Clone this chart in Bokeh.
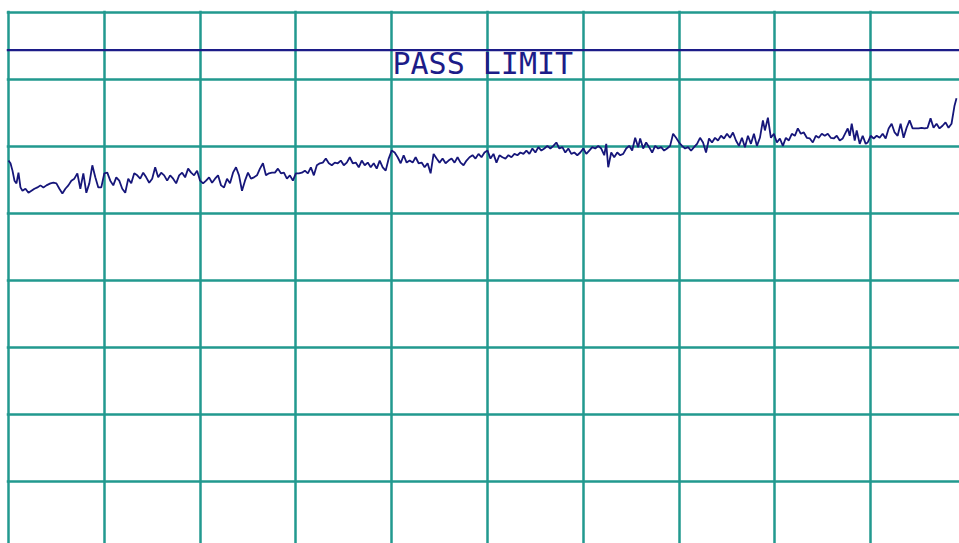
from bokeh.plotting import figure
from bokeh.models import FixedTicker, Span, Range1d
from bokeh.core.properties import value
from bokeh.embed import file_html
from bokeh.resources import INLINE

# Sweep point index (961-point sweep, 96 points per division) and measured level in dBuV
sweep_idx = [
    0, 2, 4, 6, 8, 10, 12, 14, 17, 20, 23, 26, 29, 32, 35, 38, 42, 45, 48, 51, 54, 57, 60, 63, 66, 69, 72, 75, 78, 81,
    84, 87, 90, 93, 96, 99, 102, 105, 108, 111, 114, 117, 120, 123, 126,
    129, 132, 135, 138, 141, 144, 147, 150, 153, 156, 159, 162, 165, 168, 171, 174, 177, 180, 183, 186, 189, 192, 195,
    198, 201, 204, 207, 210, 213, 216, 219, 222, 225, 228, 231, 234, 237, 240, 243, 246, 249, 252, 255, 258, 261, 264,
    267, 270, 273, 276, 279, 282, 285, 288, 291, 294, 297, 300, 303, 306, 309, 312, 315, 318, 321, 324, 327, 330, 333,
    336, 339, 342, 345, 348, 351, 354, 357, 360, 363, 366, 369, 372, 375, 378, 381, 384, 387, 390, 393, 396, 399,
    402, 405, 408, 411, 414, 417, 420, 423, 426, 429, 432, 435, 438, 441, 444, 447, 450, 453, 456, 459, 462, 465, 468,
    471, 474, 477, 480, 483, 486, 489, 492, 495, 498, 501, 504, 507, 510, 513, 516, 519, 522, 525, 528, 531, 534,
    537, 540, 543, 546, 549, 552, 555, 558, 561, 564, 567, 570, 573, 576, 579, 582, 585, 588, 591, 594, 597, 599, 601,
    604, 607, 610, 613, 616, 619, 622, 625, 628, 631, 633, 636, 639, 642, 645, 648, 651, 654, 657, 660, 663, 666, 669, 672,
    675, 678, 681, 684, 687, 690, 693, 696, 699, 702, 705, 708, 711, 714, 717, 720, 723, 726, 729, 732, 735, 738, 741,
    744, 747, 750, 753, 756, 758, 761, 764, 767, 770, 773, 776, 779, 782, 785, 788, 791, 794, 797, 800, 803, 806,
    809, 812, 815, 818, 821, 824, 827, 830, 833, 836, 839, 841, 843, 845, 848, 850, 853, 856, 859, 861, 864, 867, 870,
    873, 876, 879, 882, 885, 888, 891, 894, 897, 900, 903, 906, 909, 912, 915, 918, 921, 924, 927, 930, 933, 936, 939,
    942, 945, 948, 950,
]
level_db = [
    57.9, 57.5, 56.4, 54.9, 54.5, 56.1, 53.9, 53.4, 53.7, 53.1, 53.4, 53.7, 53.9, 54.2, 53.9, 54.2, 54.5, 54.6, 54.5,
    53.7, 53.0, 53.7, 54.2, 54.9, 55.2, 56.0, 53.7, 56.0, 53.1, 54.5, 57.2, 55.4, 53.9, 53.9, 56.0, 56.1, 54.9, 54.2,
    55.4, 54.9, 53.7, 53.1, 55.2, 54.5, 56.0,
    55.7, 55.2, 56.1, 55.4, 54.6, 55.2, 56.9, 55.4, 56.1, 55.7, 54.9, 55.7, 55.2, 54.5, 55.7, 56.1, 55.4, 56.7, 56.1,
    55.7, 56.4, 54.9, 54.5, 54.9, 55.4, 54.6, 55.2, 55.7, 54.2, 53.9, 55.2, 54.5, 56.1, 56.9, 55.7, 53.4, 54.9, 56.1,
    55.2, 55.4, 55.7, 56.7, 57.5, 55.7, 56.0, 56.1,
    56.1, 56.7, 56.0, 56.1, 55.2, 55.7, 54.9, 56.0, 56.0, 56.1, 56.4, 56.0, 56.9, 55.7, 57.2, 57.5, 57.6, 58.2, 57.5,
    57.2, 57.6, 57.5, 57.9, 57.2, 57.6, 58.4, 57.5, 57.6, 56.9, 57.9, 57.2, 57.6, 56.9, 57.5, 56.7, 57.9, 56.9, 56.4,
    58.2, 59.4, 59.1, 58.4, 57.5, 58.7, 57.6,
    57.9, 57.6, 58.4, 57.5, 57.6, 56.9, 57.5, 56.0, 58.9, 58.2, 57.6, 58.2, 57.5, 57.9, 58.2, 57.6, 58.4, 57.6, 57.2,
    57.9, 58.4, 58.7, 58.2, 58.9, 58.4, 59.1, 59.4, 58.2, 58.9, 57.6, 58.7, 58.4, 58.2, 58.7, 58.4, 58.9, 58.7, 59.1,
    58.9, 59.4, 58.9, 59.7, 59.1, 59.9, 59.4,
    59.7, 60.1, 59.7, 60.1, 60.6, 59.7, 59.9, 59.1, 59.7, 58.9, 59.1, 58.7, 59.1, 59.7, 58.9, 59.4, 59.9, 59.7, 60.1,
    59.7, 58.7, 60.4, 56.9, 59.1, 58.4, 59.1, 58.7, 58.9, 59.7, 60.1, 59.4, 61.3, 59.9, 61.2, 59.7, 60.6, 59.9, 59.1,
    60.1, 59.7, 59.9, 59.4, 59.7, 60.1, 61.9, 61.3, 60.6,
    60.1, 59.7, 59.9, 59.4, 59.9, 60.4, 61.3, 60.6, 59.1, 61.2, 60.6, 61.3, 60.9, 61.6, 61.2, 61.9, 61.3, 62.1, 60.9,
    60.1, 61.3, 59.9, 61.6, 60.4, 61.9, 60.1, 61.3, 63.9, 62.4, 64.3, 61.3, 61.9, 60.6, 61.2, 60.1, 61.3, 60.9, 61.9,
    61.6, 62.7, 61.9, 62.1, 61.3, 61.2, 60.6,
    61.6, 61.3, 61.9, 61.6, 61.9, 61.3, 61.2, 61.6, 60.9, 61.2, 62.1, 62.7, 61.6, 63.4, 60.9, 62.4, 60.4, 61.6, 60.4,
    60.6, 61.6, 61.2, 61.6, 61.3, 61.9, 61.2, 62.7, 63.4, 62.1, 61.6, 63.4, 61.3, 62.8, 63.9, 62.7, 62.7, 62.7, 62.8,
    62.7, 62.8, 64.2, 62.8, 63.4, 62.7, 63.1, 63.6, 62.8, 63.4, 66.1, 67.2,
]

# Limit and display graticule
pass_limit_db = 74.4
limit_label = "PASS LIMIT"
x_divisions = [0, 96, 192, 288, 384, 480, 576, 672, 768, 864, 960]
y_divisions = [80, 70, 60, 50, 40, 30, 20, 10, 0]

GRID = "#22998f"
TRACE = "#16167a"

p = figure(
    width=959, height=543,
    output_backend="svg", toolbar_location=None,
    x_range=Range1d(-2.0, 953.0), y_range=Range1d(0.75, 80.3),
    min_border_left=6, min_border_top=10, min_border_right=0, min_border_bottom=0,
    background_fill_color="white", border_fill_color="white",
)
p.outline_line_color = None
p.axis.visible = False

p.xgrid.ticker = FixedTicker(ticks=x_divisions)
p.ygrid.ticker = FixedTicker(ticks=y_divisions)
for g in (p.xgrid, p.ygrid):
    g.grid_line_color = GRID
    g.grid_line_width = 2.5
    g.grid_line_alpha = 1.0

p.add_layout(Span(location=pass_limit_db, dimension="width",
                  line_color="#1c1c88", line_width=2.2))

p.text(x=[384.8], y=[72.4], text=[limit_label],
       text_font=value("DejaVu Sans Mono"), text_font_size="30px",
       text_color="#1c1c88", text_baseline="alphabetic", text_align="left")

p.line(sweep_idx, level_db, line_color=TRACE, line_width=1.8)

open("out.html", "w").write(file_html(p, INLINE))
